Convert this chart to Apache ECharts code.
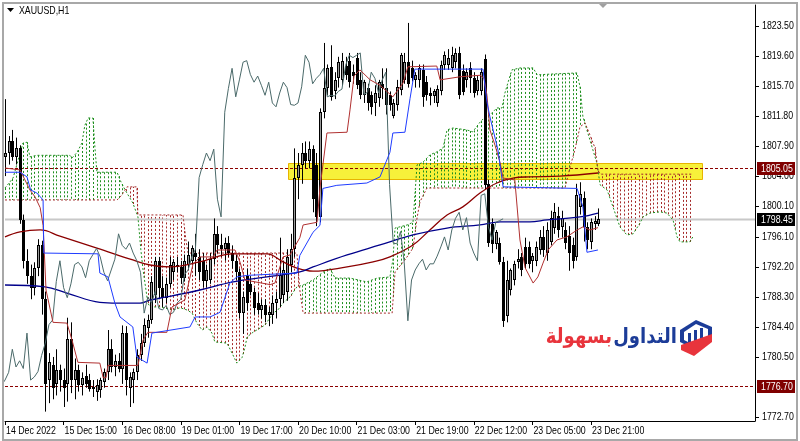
<!DOCTYPE html>
<html><head><meta charset="utf-8">
<script src="https://cdn.jsdelivr.net/npm/echarts@6/dist/echarts.min.js"></script>
<style>html,body{margin:0;padding:0;background:#fff}#c{width:800px;height:441px}</style>
</head><body><div id="c"></div><script>
const symbolTitle = 'XAUUSD,H1';
const timeTicks = [0,16,32,48,64,80,96,112,128,144,160];
const timeLabels = ['14 Dec 2022','15 Dec 15:00','16 Dec 08:00','19 Dec 01:00','19 Dec 17:00','20 Dec 10:00','21 Dec 03:00','21 Dec 19:00','22 Dec 12:00','23 Dec 05:00','23 Dec 21:00'];
const priceTicks = [1772.7,1780.5,1784.4,1788.3,1792.2,1796.1,1800.1,1804.0,1807.9,1811.8,1815.7,1819.6,1823.5];

const opens = [1806.5,1807.0,1808.5,1806.5,1807.6,1798.3,1793.0,1791.0,1789.5,1792.0,
1795.0,1788.0,1777.5,1779.5,1777.0,1778.8,1777.5,1777.0,1782.8,1777.5,
1778.8,1776.8,1778.0,1777.5,1776.3,1776.0,1776.2,1777.2,1778.5,1781.5,
1779.2,1780.0,1779.0,1783.6,1776.5,1777.5,1778.5,1780.7,1782.3,1784.3,
1785.3,1788.5,1793.0,1789.5,1788.2,1790.0,1791.5,1792.5,1792.2,1790.8,
1792.5,1793.0,1794.0,1793.5,1793.0,1790.4,1790.5,1793.2,1796.5,1795.0,
1794.5,1795.3,1794.0,1793.0,1791.5,1786.2,1791.0,1790.0,1789.0,1787.5,
1786.6,1787.2,1786.0,1786.0,1787.5,1788.0,1788.5,1789.0,1792.5,1794.5,
1803.8,1805.5,1807.0,1806.0,1807.5,1805.5,1798.7,1812.3,1815.4,1818.2,
1815.0,1816.8,1816.5,1818.3,1819.0,1817.5,1819.3,1816.5,1814.5,1815.4,
1814.5,1813.5,1814.2,1816.0,1815.5,1814.5,1811.8,1813.2,1815.2,1816.5,
1818.8,1818.0,1816.5,1816.5,1817.8,1816.2,1814.8,1814.4,1813.5,1815.0,
1818.4,1818.4,1818.0,1818.8,1820.0,1817.6,1816.5,1818.0,1816.8,1815.0,
1815.0,1819.2,1803.0,1797.8,1795.2,1795.3,1792.8,1785.8,1789.2,1790.5,
1792.8,1793.5,1794.8,1794.8,1793.0,1793.0,1794.4,1796.1,1794.0,1795.5,
1797.2,1798.8,1797.4,1797.0,1796.2,1795.0,1793.5,1800.0,1801.2,1797.4,
1795.5,1797.8,1797.8];
const highs = [1814.0,1809.2,1810.0,1809.0,1808.0,1799.0,1794.5,1792.5,1792.8,1795.8,
1795.6,1789.0,1781.0,1780.5,1781.5,1779.5,1779.0,1785.6,1785.0,1780.3,
1779.5,1778.5,1779.5,1778.3,1777.5,1777.6,1777.8,1779.0,1784.0,1782.8,
1780.8,1781.0,1784.6,1784.5,1778.5,1779.0,1781.5,1783.5,1785.5,1786.0,
1791.0,1793.5,1793.5,1791.0,1790.8,1793.5,1793.2,1793.5,1793.0,1793.8,
1795.5,1795.0,1796.5,1794.5,1794.0,1792.5,1794.0,1798.5,1797.5,1796.5,
1796.0,1796.2,1795.0,1793.8,1792.0,1789.0,1792.0,1791.0,1789.5,1788.8,
1788.0,1788.0,1787.0,1788.5,1789.0,1796.0,1793.0,1794.5,1796.5,1807.6,
1807.0,1808.3,1808.5,1808.5,1808.0,1807.0,1812.8,1821.3,1818.5,1821.0,
1817.5,1819.5,1820.0,1819.5,1820.0,1818.5,1820.0,1817.5,1816.5,1816.0,
1815.0,1815.8,1816.5,1818.0,1818.0,1815.0,1814.0,1816.5,1820.0,1820.0,
1823.9,1819.0,1817.5,1818.5,1818.5,1817.0,1815.5,1815.3,1815.8,1819.0,
1820.2,1820.5,1820.8,1820.6,1820.8,1818.5,1818.0,1818.8,1817.5,1817.0,
1818.0,1819.8,1803.5,1798.5,1797.0,1796.0,1793.5,1793.0,1792.0,1793.0,
1794.5,1794.0,1796.0,1795.5,1794.0,1795.5,1797.0,1797.5,1798.0,1799.5,
1800.5,1800.0,1799.5,1798.0,1797.5,1796.0,1803.0,1803.2,1802.0,1798.0,
1798.5,1798.8,1799.8];
const lows = [1804.0,1805.5,1806.0,1805.5,1797.8,1792.0,1790.0,1788.0,1788.5,1791.0,
1786.0,1773.4,1774.5,1775.0,1775.5,1776.0,1774.0,1774.7,1775.8,1775.0,
1776.0,1775.5,1776.5,1776.0,1775.3,1774.8,1775.2,1776.5,1777.5,1778.5,
1778.0,1778.5,1777.0,1775.5,1774.0,1774.5,1777.5,1780.0,1781.8,1783.0,
1784.8,1787.5,1788.0,1787.0,1787.5,1789.5,1790.5,1791.5,1790.0,1790.3,
1791.8,1792.5,1791.0,1790.5,1789.5,1789.5,1790.0,1792.5,1794.0,1793.5,
1793.0,1793.5,1792.0,1790.5,1785.5,1783.5,1786.5,1788.5,1786.0,1786.0,
1785.5,1785.0,1784.5,1784.8,1785.5,1787.0,1787.5,1787.8,1791.5,1793.5,
1801.0,1803.0,1805.0,1805.0,1799.3,1797.5,1798.0,1811.5,1814.5,1813.8,
1814.0,1815.5,1815.8,1816.5,1815.5,1816.0,1815.3,1814.0,1813.5,1812.5,
1812.0,1811.8,1813.0,1814.0,1812.0,1812.5,1811.5,1812.5,1814.5,1816.0,
1815.5,1816.3,1815.5,1815.5,1813.0,1813.8,1813.2,1813.5,1813.0,1814.5,
1817.8,1817.8,1817.5,1818.0,1814.0,1814.5,1815.5,1814.8,1814.2,1814.5,
1814.5,1802.2,1794.8,1794.0,1794.5,1792.5,1784.4,1785.0,1788.5,1789.8,
1792.0,1791.0,1792.0,1792.0,1791.5,1792.3,1793.8,1793.5,1793.0,1795.0,
1796.5,1796.0,1796.0,1794.5,1791.7,1792.0,1793.0,1799.0,1795.5,1794.5,
1794.5,1797.0,1797.5];
const closes = [1807.0,1808.5,1806.5,1807.6,1798.3,1793.0,1791.0,1789.5,1792.0,1795.0,
1788.0,1777.0,1779.8,1776.5,1778.8,1777.5,1776.5,1782.8,1777.5,1778.8,
1776.8,1777.8,1777.0,1776.3,1776.6,1776.8,1777.5,1778.5,1781.5,1779.2,
1780.0,1779.0,1783.6,1777.5,1777.9,1778.6,1780.7,1782.3,1784.7,1785.3,
1790.3,1793.0,1789.5,1788.2,1790.0,1792.5,1792.8,1792.2,1790.8,1793.0,
1793.8,1794.6,1793.5,1791.5,1790.4,1791.8,1793.2,1796.5,1795.0,1794.5,
1795.3,1794.0,1793.0,1791.5,1786.2,1788.3,1787.5,1789.0,1786.8,1786.6,
1787.2,1786.0,1786.3,1787.5,1788.0,1791.2,1791.8,1793.5,1794.5,1803.8,
1805.5,1807.0,1806.0,1807.5,1801.0,1798.7,1812.3,1815.4,1818.0,1814.3,
1816.5,1818.8,1819.0,1817.2,1816.2,1817.0,1815.8,1814.5,1816.2,1813.5,
1813.0,1814.8,1816.2,1815.5,1813.3,1813.2,1813.5,1815.6,1819.7,1818.8,
1816.0,1816.7,1817.2,1818.0,1814.3,1814.5,1814.4,1815.0,1815.3,1818.4,
1819.7,1819.4,1819.7,1820.0,1814.6,1814.9,1817.5,1816.7,1814.8,1816.5,
1817.5,1802.9,1795.3,1795.2,1796.8,1792.8,1785.2,1790.5,1791.8,1792.6,
1793.2,1791.8,1792.6,1792.6,1793.6,1794.8,1796.1,1794.4,1797.0,1798.5,
1799.3,1797.0,1798.6,1795.3,1794.0,1793.0,1801.5,1801.7,1797.4,1795.7,
1798.0,1798.2,1798.45];

// Ichimoku lines read as vertices [bar index, price]
const tenkan = [[0,1805.05],[4.1,1804.8],[6.8,1802.2],[8.2,1801.3],[9.6,1799.9],[10.4,1797.6],[11.2,1789.2],[13.1,1785.0],[16.9,1784.9],[18.3,1782.7],[19.9,1779.8],[25.9,1779.7],[26.8,1777.8],[27.6,1777.8],[28.1,1779.4],[36.3,1779.4],[37.7,1782.7],[39,1783.7],[44.2,1783.7],[45.6,1787.0],[49.1,1787.9],[51.3,1792.5],[53.2,1793.5],[56.8,1793.5],[57.9,1794.4],[62.8,1794.4],[64.2,1792.8],[65.5,1790.5],[72.4,1789.9],[73.7,1790.1],[75.9,1793.5],[77.8,1793.75],[80.5,1796.0],[81.4,1797.65],[85.2,1798.0],[86,1802.45],[87.9,1809.6],[93.4,1809.7],[94.2,1812.6],[95.3,1817.0],[96.9,1817.8],[99.7,1816.5],[102.4,1815.8],[105.9,1814.3],[107.3,1815.2],[108.7,1816.1],[110,1818.2],[117.9,1818.3],[118.8,1816.5],[124.2,1816.9],[129.7,1817.1],[130.8,1816.7],[131.6,1814.5],[132.4,1810.0],[133.8,1808.0],[135.2,1805.7],[136,1803.75],[139.2,1803.5],[140.6,1795.7],[142,1792.1],[144.2,1790.1],[145.5,1790.9],[146.9,1792.7],[148.3,1794.4],[150.7,1795.7],[153.4,1796.1],[156.2,1797.0],[157.8,1797.4],[159.7,1797.0],[161.9,1797.3]];
const kijun = [[0,1804.5],[4.1,1804.5],[6,1803.9],[7,1802.2],[8.7,1801.8],[10.4,1800.9],[10.6,1794.0],[25.4,1793.9],[25.9,1791.4],[28.1,1790.9],[30,1787.5],[31.4,1785.7],[34.9,1784.4],[36,1780.5],[38.8,1779.7],[40.1,1783.6],[50.5,1784.4],[51.9,1785.7],[56,1785.7],[58.7,1786.3],[61.4,1790.1],[63.3,1790.9],[66.1,1791.1],[79.7,1791.4],[80.5,1793.7],[84.1,1796.7],[86,1797.6],[86.8,1802.4],[90.6,1802.8],[98.8,1803.1],[102.4,1803.9],[105.1,1807.1],[105.9,1809.6],[109.2,1809.7],[110.6,1814.1],[111.9,1817.9],[130.5,1817.9],[131.6,1813.6],[132.4,1811.7],[134.6,1807.4],[136,1802.6],[156.2,1802.4],[157.8,1800.0],[158.9,1794.1],[161.9,1794.4]];
const spanA = [[0,1802.45],[2.2,1803.75],[4.9,1808.3],[6,1808.4],[6.8,1806.5],[8.7,1806.7],[17.7,1806.7],[18.3,1806.35],[19.7,1807.1],[21,1808.3],[21.8,1810.6],[22.7,1811.55],[24,1811.55],[24.6,1807.4],[25.1,1804.5],[30.6,1804.5],[31.4,1803.5],[32.8,1802.2],[34.9,1800.5],[36.3,1798.7],[37.1,1794.4],[37.7,1791.8],[39,1787.5],[39.6,1787.0],[42.3,1787.0],[45.9,1786.6],[47.8,1786.9],[49.7,1786.6],[51.1,1786.2],[52.4,1784.9],[53.8,1784.0],[55.2,1784.4],[56.5,1783.6],[57.3,1782.45],[60.6,1782.3],[62,1781.0],[63.3,1779.7],[64.7,1780.4],[65.5,1781.7],[66.1,1783.1],[67.7,1783.7],[71,1784.65],[73.2,1786.2],[74.5,1786.6],[75.9,1787.5],[77.8,1788.3],[79.7,1789.6],[81.4,1789.85],[84.1,1790.5],[86.8,1791.5],[88.7,1792.05],[90.1,1790.75],[94.2,1790.75],[98.8,1790.25],[101.6,1790.75],[105.1,1790.9],[105.9,1793.1],[106.5,1797.25],[109.8,1797.65],[111.4,1798.0],[112.5,1805.45],[114.1,1805.8],[116,1806.75],[117.9,1807.15],[119.6,1807.65],[120.7,1810.0],[122.3,1810.25],[126.1,1810.0],[127.7,1809.75],[129.7,1811.0],[131.1,1811.7],[132.4,1811.95],[134.3,1812.85],[135.7,1812.85],[136.5,1814.8],[137.3,1816.1],[138.4,1817.8],[140.6,1818.05],[144.2,1818.05],[145.3,1817.15],[148.8,1817.25],[156.2,1817.4],[157,1815.6],[157.8,1811.7],[159.7,1808.7],[161.6,1805.7],[162.5,1802.85],[164.4,1802.2],[166,1800.0],[167.9,1797.4],[169.8,1796.35],[171.5,1796.5],[173.4,1797.9],[174.2,1798.7],[176.1,1799.2],[178.8,1799.35],[180.7,1799.2],[182.4,1798.3],[183.5,1796.1],[184.3,1795.45],[187,1795.45],[187.8,1796.1]];
const spanB = [[0,1800.9],[30.6,1800.9],[31.9,1801.55],[33.3,1802.6],[36,1802.6],[36.3,1798.95],[48.6,1798.95],[49.4,1795.7],[50,1794.0],[79.7,1794.0],[80.5,1789.2],[81.4,1786.2],[105.7,1786.2],[106.5,1791.55],[109.2,1793.1],[111.4,1794.65],[112.5,1798.55],[113.3,1800.65],[115.2,1802.45],[152.9,1802.45],[154.3,1805.2],[155.6,1807.4],[157,1810.4],[158.4,1810.9],[159.7,1809.35],[161.1,1807.65],[161.9,1804.8],[162.5,1804.25],[187.8,1804.25]];
const chikouShift = 26;
// moving averages read as vertices
const maRed = [[0,1796.1],[4.1,1796.75],[9.6,1797.0],[15,1796.2],[25.1,1794.65],[34.9,1793.1],[39.6,1792.45],[45.1,1792.2],[53.2,1792.85],[62.3,1793.9],[71.5,1793.9],[75.9,1792.85],[79.7,1792.05],[84.1,1791.65],[93.4,1792.2],[100.5,1792.85],[105.1,1793.5],[111.4,1795.05],[116,1797.0],[120.7,1798.95],[125,1800.0],[129.7,1801.8],[134.3,1803.1],[138.7,1803.75],[143.3,1803.9],[151.5,1804.0],[161.9,1804.4]];
const maBlue = [[0,1789.85],[10.9,1789.6],[16.9,1788.8],[25.9,1787.6],[30.6,1787.5],[36.9,1787.5],[39.6,1787.9],[44.2,1788.3],[53.2,1789.2],[62.3,1790.25],[71.5,1790.9],[80.5,1791.55],[84.1,1792.2],[93.4,1793.75],[102.4,1795.05],[111.4,1796.35],[120.7,1797.25],[129.7,1797.65],[135.2,1798.05],[143.3,1798.05],[148,1798.3],[157,1798.7],[161.9,1799.2]];
const levelLines = [1805.05, 1776.70];
const lastPrice = 1798.45;
const zoneX = [77.3, 190.3];
const zoneY = [1803.6, 1805.7];
const logoBlue = 'التداول';
const logoRed = 'بسهولة';

const FONT = "'Liberation Sans',Arial,sans-serif";
const AXFONT = '11px ' + FONT;
const SX = 0.8;
const GREEN = '#1f8f1f', BROWN = '#a52a2a';

const chart = echarts.init(document.getElementById('c'), null, {renderer:'canvas'});
const candleData = opens.map((o,k)=>[k, o, highs[k], lows[k], closes[k]]);
const chikou = closes.map((c,k)=>[k - chikouShift, c]);

function interp(v, t){
  if (t < v[0][0] || t > v[v.length-1][0]) return null;
  for (let k=1;k<v.length;k++){
    if (t <= v[k][0]) { const a=v[k-1], b=v[k]; return b[0]===a[0] ? b[1] : a[1]+(b[1]-a[1])*(t-a[0])/(b[0]-a[0]); }
  }
  return null;
}

function lineSeries(name, data, color, width, extra){
  return Object.assign({type:'line', name, data, symbol:'none', showSymbol:false, silent:true,
    lineStyle:{color, width}, z:6, animation:false}, extra||{});
}
function axText(x, y, text, fill, align){
  return {type:'text', x, y, scaleX:SX, style:{x:0, y:0, text, fill:fill||'#000', font:AXFONT, align:align||'left', verticalAlign:'middle'}};
}

const option = {
  animation:false,
  grid:{left:5, right:45, top:5, bottom:20},
  xAxis:{type:'value', min:0, max:204.78,
    axisLine:{show:true, onZero:false, lineStyle:{color:'#000', width:1}},
    axisTick:{show:true, customValues:timeTicks, length:4, lineStyle:{color:'#000'}},
    axisLabel:{show:false},
    splitLine:{show:false}},
  yAxis:{type:'value', position:'right', min:1772.18, max:1826.23,
    axisLine:{show:true, onZero:false, lineStyle:{color:'#000', width:1}},
    axisTick:{show:true, customValues:priceTicks, length:4, lineStyle:{color:'#000'}},
    axisLabel:{show:false},
    splitLine:{show:false}},
  series:[
    {type:'custom', name:'zone', z:1, silent:true, data:[[zoneX[0], zoneY[0], zoneX[1], zoneY[1]]],
     renderItem:(p,api)=>{ const a=api.coord([api.value(0), api.value(3)]), b=api.coord([api.value(2), api.value(1)]);
       return {type:'rect', shape:{x:Math.round(a[0])+0.5, y:Math.round(a[1])+0.5, width:Math.round(b[0]-a[0]), height:Math.round(b[1]-a[1])},
         style:{fill:'#f7f13a', stroke:'#e8b400', lineWidth:1}}; }},
    {type:'custom', name:'cloud', z:2, silent:true, data:[[100,1800]],
     renderItem:(p,api)=>{
       const children=[];
       const end = spanA[spanA.length-1][0];
       for (let b=0;b<=Math.floor(end);b++){
         const a=interp(spanA,b), s=interp(spanB,b);
         if (a==null || s==null) continue;
         const pa=api.coord([b,a]), pb=api.coord([b,s]);
         const x=Math.round(pa[0])+0.5;
         children.push({type:'line', shape:{x1:x,y1:pa[1],x2:x,y2:pb[1]}, style:{stroke:a>=s?GREEN:BROWN, lineWidth:1, lineDash:[2,2]}});
       }
       return {type:'group', children};
     }},
    lineSeries('Senkou A', spanA, GREEN, 1, {z:3, lineStyle:{color:GREEN, width:1, type:[2,2]}}),
    lineSeries('Senkou B', spanB, BROWN, 1, {z:3, lineStyle:{color:BROWN, width:1, type:[2,2]}}),
    {type:'custom', name:'levels', z:3, silent:true, clip:false,
     data: levelLines.map(v=>[v,0]).concat([[lastPrice,1]]),
     renderItem:(p,api)=>{
       const v=api.value(0), kind=api.value(1);
       const cs=p.coordSys; const y=Math.round(api.coord([0,v])[1])+0.5;
       const x0=cs.x, x1=cs.x+cs.width;
       return kind===0
         ? {type:'line', shape:{x1:x0,y1:y,x2:x1,y2:y}, style:{stroke:'#8b0000', lineWidth:1, lineDash:[3,2]}}
         : {type:'line', shape:{x1:x0,y1:y,x2:x1,y2:y}, style:{stroke:'#c8c8c8', lineWidth:2}};
     }},
    {type:'custom', name:'candles', z:4, silent:true, data:candleData, encode:{x:0, y:[1,2,3,4]},
     renderItem:(p,api)=>{
       const i=api.value(0), o=api.value(1), h=api.value(2), l=api.value(3), c=api.value(4);
       const po=api.coord([i,o]); const x=Math.round(po[0]);
       const yo=po[1], yc=api.coord([i,c])[1], yh=api.coord([i,h])[1], yl=api.coord([i,l])[1];
       const top=Math.round(Math.min(yo,yc)), bot=Math.round(Math.max(yo,yc));
       const bull=c>=o;
       const ch=[{type:'line', shape:{x1:x+0.5,y1:yh,x2:x+0.5,y2:yl}, style:{stroke:'#000', lineWidth:1}},
                 {type:'rect', shape:{x:x-1, y:top, width:3, height:Math.max(1,bot-top)}, style:{fill:'#000'}}];
       if (bull && bot-top>2) ch.push({type:'rect', shape:{x:x, y:top+1, width:1, height:bot-top-2}, style:{fill:'#9a9a9a'}});
       return {type:'group', children:ch};
     }},
    lineSeries('MA slow', maRed, '#8b0000', 1.3, {smooth:0.4, z:5}),
    lineSeries('MA blue', maBlue, '#00008b', 1.3, {smooth:0.4, z:5}),
    lineSeries('Chikou', chikou, '#4b6a6a', 1),
    lineSeries('Tenkan', tenkan, '#b03030', 1),
    lineSeries('Kijun', kijun, '#1f3cff', 1),
    {type:'custom', name:'priceLabels', z:7, silent:true, clip:false, data:priceTicks.map(v=>[v]),
     renderItem:(p,api)=>{ const cs=p.coordSys; const y=api.coord([0, api.value(0)])[1];
       return axText(cs.x+cs.width+7, y, api.value(0).toFixed(2)); }},
    {type:'custom', name:'timeLabels', z:7, silent:true, clip:false, data:timeTicks.map((t,k)=>[t,k]),
     renderItem:(p,api)=>{ const cs=p.coordSys; const x=api.coord([api.value(0), 1800])[0];
       return axText(x+1, cs.y+cs.height+10, timeLabels[api.value(1)]); }},
    {type:'custom', name:'priceTags', z:8, silent:true, clip:false,
     data: levelLines.map(v=>[v,0]).concat([[lastPrice,1]]),
     renderItem:(p,api)=>{
       const v=api.value(0), kind=api.value(1);
       const cs=p.coordSys; const y=Math.round(api.coord([0,v])[1])+0.5;
       const x1=cs.x+cs.width;
       const tag = {type:'rect', shape:{x:x1+2, y:y-6.5, width:38, height:13}, style:{fill: kind===0?'#800000':'#000'}};
       return {type:'group', children:[tag, axText(x1+6, y, v.toFixed(2), '#fff')]};
     }}
  ],
  graphic:[
    {type:'rect', silent:true, z:100, shape:{x:3,y:3,width:794,height:437}, style:{fill:'none', stroke:'#a8a8a8', lineWidth:2}},
    {type:'polygon', silent:true, z:100, shape:{points:[[7,8],[14,8],[10.5,12]]}, style:{fill:'#000'}},
    {type:'text', silent:true, z:100, x:19, y:11, scaleX:SX, style:{x:0,y:0,text:symbolTitle, font:AXFONT, fill:'#000', verticalAlign:'middle'}},
    {type:'polygon', silent:true, z:100, shape:{points:[[599,4],[607,4],[603,8]]}, style:{fill:'#a0a0a0'}},
    {type:'text', silent:true, z:100, x:612, y:338, scaleX:0.86, style:{x:0,y:0,text:logoRed, font:'bold 21px "DejaVu Sans"', fill:'#e8343c', align:'right', verticalAlign:'middle'}},
    {type:'text', silent:true, z:100, x:677, y:338, scaleX:0.86, style:{x:0,y:0,text:logoBlue, font:'bold 21px "DejaVu Sans"', fill:'#1c3c98', align:'right', verticalAlign:'middle'}},
    {type:'polygon', silent:true, z:100, shape:{points:[[680,330],[696,320],[712,327],[712,341],[696,350],[680,342]]}, style:{fill:'#1c3c98'}},
    {type:'polygon', silent:true, z:101, shape:{points:[[684,332],[696,324],[708,329],[708,339],[696,346],[684,340]]}, style:{fill:'#fff'}},
    {type:'rect', silent:true, z:102, shape:{x:688,y:333,width:3,height:10}, style:{fill:'#1c3c98'}},
    {type:'rect', silent:true, z:102, shape:{x:694,y:330,width:3,height:14}, style:{fill:'#1c3c98'}},
    {type:'rect', silent:true, z:102, shape:{x:700,y:328,width:3,height:14}, style:{fill:'#1c3c98'}},
    {type:'polygon', silent:true, z:103, shape:{points:[[681,345],[712,334],[712,342],[694,356],[681,350]]}, style:{fill:'#e8343c'}}
  ]
};
chart.setOption(option);
</script></body></html>
